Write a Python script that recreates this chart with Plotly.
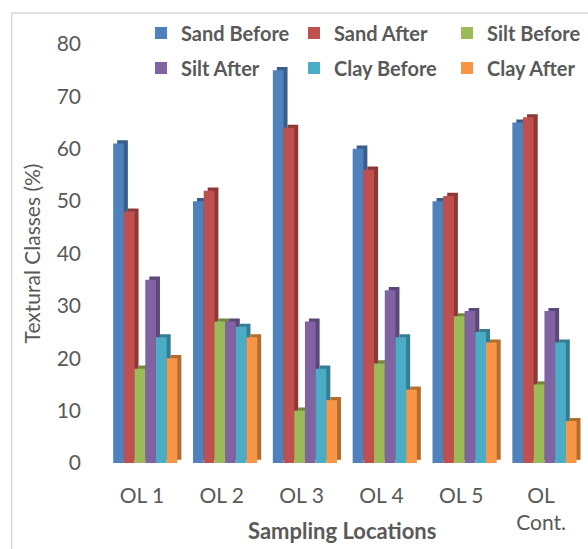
import plotly.graph_objects as go

locations = ["OL 1", "OL 2", "OL 3", "OL 4", "OL 5", "OL<br>Cont."]
series_names = ["Sand Before", "Sand After", "Silt Before", "Silt After", "Clay Before", "Clay After"]
sand_before = [61, 50, 75, 60, 50, 65]
sand_after = [48, 52, 64, 56, 51, 66]
silt_before = [18, 27, 10, 19, 28, 15]
silt_after = [35, 27, 27, 33, 29, 29]
clay_before = [24, 26, 18, 24, 25, 23]
clay_after = [20, 24, 12, 14, 23, 8]
y_ticks = [0, 10, 20, 30, 40, 50, 60, 70, 80]

series_values = [sand_before, sand_after, silt_before, silt_after, clay_before, clay_after]
front_colors = ["#4F81BD", "#C0504D", "#9BBB59", "#8064A2", "#4BACC6", "#F79646"]
side_colors = ["#395E8C", "#8E3835", "#6F8A3E", "#5C4777", "#347E92", "#B56D2F"]

FONT = "Lato"
GREY = "#595959"

bar_w = 0.134
start = -0.36
depth_dx = 0.05
depth_dy = 0.6

fig = go.Figure()
x_idx = list(range(len(locations)))

# depth (side) faces drawn first
for i, vals in enumerate(series_values):
    fig.add_trace(go.Bar(
        x=x_idx, y=vals, base=depth_dy,
        width=bar_w, offset=start + i * bar_w + depth_dx,
        marker=dict(color=side_colors[i], line=dict(width=0)),
        showlegend=False, hoverinfo="skip",
    ))

for i, vals in enumerate(series_values):
    fig.add_trace(go.Bar(
        x=x_idx, y=vals, name=series_names[i],
        width=bar_w, offset=start + i * bar_w,
        marker=dict(color=front_colors[i], line=dict(width=0)),
        legend="legend" if i < 3 else "legend2",
    ))

legend_common = dict(
    orientation="h",
    xref="container", yref="container",
    xanchor="left", yanchor="middle",
    entrywidth=108, entrywidthmode="pixels",
    font=dict(family=FONT, size=20, color=GREY, weight="bold"),
    bgcolor="rgba(0,0,0,0)",
    traceorder="normal",
    itemclick=False,
)

fig.update_layout(
    width=588, height=549,
    barmode="overlay",
    paper_bgcolor="white", plot_bgcolor="white",
    margin=dict(l=101.5, r=6.5, t=44, b=86, autoexpand=False),
    font=dict(family=FONT, color=GREY, size=21),
    legend=dict(legend_common, x=141 / 588, y=1 - 33 / 549),
    legend2=dict(legend_common, x=141 / 588, y=1 - 68 / 549),
    xaxis=dict(
        tickmode="array", tickvals=x_idx, ticktext=locations,
        range=[-0.5, 5.5],
        showgrid=False, zeroline=False, showline=False,
        ticks="", ticklabelstandoff=18,
        tickfont=dict(family=FONT, size=21, color=GREY),
        fixedrange=True,
    ),
    yaxis=dict(
        range=[0, 80], tickvals=y_ticks,
        showgrid=False, zeroline=False, showline=False,
        ticks="", ticklabelstandoff=20,
        tickfont=dict(family=FONT, size=21, color=GREY),
        title=dict(text="Textural Classes (%)", standoff=10,
                   font=dict(family=FONT, size=21, color=GREY)),
        fixedrange=True,
    ),
    annotations=[dict(
        text="<b>Sampling Locations</b>",
        xref="paper", yref="paper", x=0.5, y=(463 - 530) / 419,
        xanchor="center", yanchor="middle", showarrow=False,
        font=dict(family=FONT, size=22, color=GREY),
    )],
    shapes=[dict(
        type="rect", xref="paper", yref="paper",
        x0=(11 - 101.5) / 480, x1=1.2, y0=-0.4, y1=(463 - 13) / 419,
        line=dict(color="#D9D9D9", width=1.5), layer="below",
    )],
)

fig.write_html("out.html")
